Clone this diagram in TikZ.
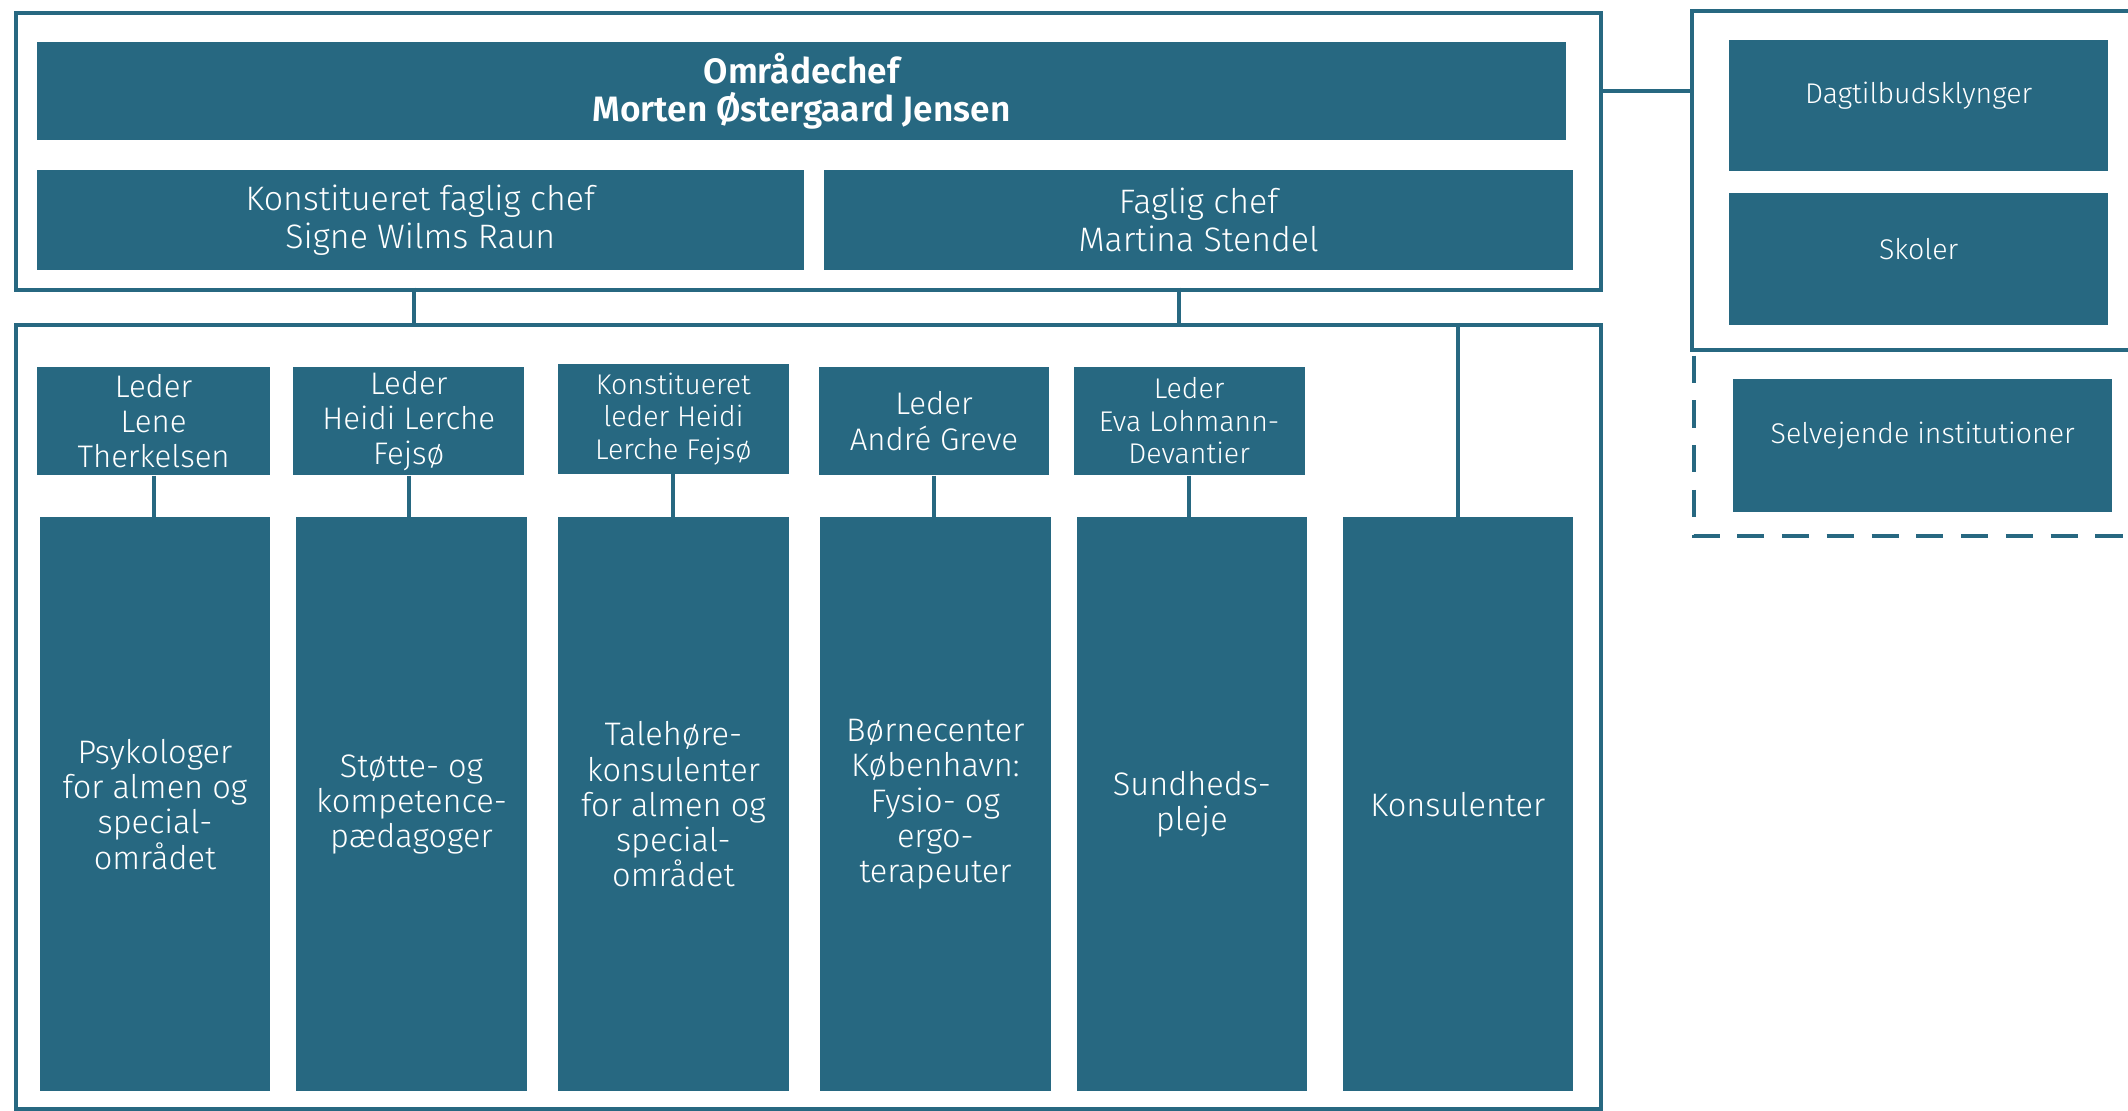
\documentclass[tikz,border=0pt]{standalone}
\usepackage{fontspec}
\setmainfont{Fira Sans Light}[BoldFont={Fira Sans SemiBold}]
\usetikzlibrary{positioning}
\definecolor{kbhblue}{RGB}{39,104,129}
\tikzset{
  unit/.style={fill=kbhblue, text=white, align=center, inner sep=0pt, anchor=north west},
  frame/.style={draw=kbhblue, line width=3pt, inner sep=0pt, anchor=north west},
  link/.style={draw=kbhblue, line width=3pt},
  topfont/.style={font=\fontsize{25}{28}\selectfont},
  boldfont/.style={font=\fontsize{26}{28}\selectfont\bfseries},
  leadfont/.style={font=\fontsize{23}{26}\selectfont},
  smallfont/.style={font=\fontsize{21}{24}\selectfont},
  teamfont/.style={font=\fontsize{24}{26}\selectfont},
  sidefont/.style={font=\fontsize{21}{24}\selectfont},
}
\begin{document}
\begin{tikzpicture}[x=1pt,y=-1pt]
  \useasboundingbox[fill=white] (0,0) rectangle (1568,818);
  % frames
  \node[frame, minimum width=1168pt, minimum height=204pt] (topframe) at (10,8) {};
  \node[frame, minimum width=1168pt, minimum height=578pt] (botframe) at (10,238) {};
  \coordinate (rf) at (1247,8);
  \draw[link] (1600,8) -- (rf) -- (1247,258) -- (1600,258);
  \draw[link, dash pattern=on 20pt off 13pt] (1248,262) -- (1248,395) -- (1600,395);
  % top
  \node[unit, boldfont, minimum width=1127pt, minimum height=72pt] (omr) at (27,31)
    {Områdechef\\Morten Østergaard Jensen};
  \node[unit, topfont, minimum width=565pt, minimum height=74pt] (kfc) at (27,125)
    {Konstitueret faglig chef\\Signe Wilms Raun};
  \node[unit, topfont, minimum width=552pt, minimum height=74pt] (fc) at (607,125)
    {Faglig chef\\Martina Stendel};
  % right side
  \node[unit, minimum width=279pt, minimum height=97pt] (dag) at (1274,29) {};
  \node[unit, minimum width=279pt, minimum height=97pt] (skoler) at (1274,142) {};
  \node[unit, minimum width=279pt, minimum height=98pt] (selv) at (1277,279) {};
  \node[sidefont, text=white] (dagtxt) at ([yshift=7pt]dag.center) {Dagtilbudsklynger};
  \node[sidefont, text=white] (skolertxt) at ([yshift=7pt]skoler.center) {Skoler};
  \node[sidefont, text=white] (selvtxt) at ([yshift=7pt]selv.center) {Selvejende institutioner};
  % leaders
  \node[unit, leadfont, minimum width=172pt, minimum height=80pt] (lead1) at (27,270)
    {Leder\\Lene\\Therkelsen};
  \node[unit, leadfont, minimum width=170pt, minimum height=80pt] (lead2) at (216,270)
    {Leder\\Heidi Lerche\\Fejsø};
  \node[unit, smallfont, minimum width=170pt, minimum height=81pt] (lead3) at (411,268)
    {Konstitueret\\leder Heidi\\Lerche Fejsø};
  \node[unit, leadfont, minimum width=170pt, minimum height=80pt] (lead4) at (603,270)
    {Leder\\André Greve};
  \node[unit, smallfont, minimum width=170pt, minimum height=80pt] (lead5) at (791,270)
    {Leder\\Eva Lohmann-\\Devantier};
  % teams
  \node[unit, teamfont, minimum width=170pt, minimum height=423pt] (team1) at (29,381)
    {Psykologer\\for almen og\\special-\\området};
  \node[unit, teamfont, minimum width=170pt, minimum height=423pt] (team2) at (218,381)
    {Støtte- og\\kompetence-\\pædagoger};
  \node[unit, teamfont, minimum width=170pt, minimum height=423pt] (team3) at (411,381)
    {Talehøre-\\konsulenter\\for almen og\\special-\\området};
  \node[unit, teamfont, minimum width=170pt, minimum height=423pt] (team4) at (604,381)
    {Børnecenter\\København:\\Fysio- og\\ergo-\\terapeuter};
  \node[unit, teamfont, minimum width=170pt, minimum height=423pt] (team5) at (793,381)
    {Sundheds-\\pleje};
  \node[unit, teamfont, minimum width=170pt, minimum height=423pt] (team6) at (989,381)
    {Konsulenter};
  % connectors
  \coordinate (j1) at (305,212);
  \coordinate (j2) at (869,212);
  \draw[link] (j1) -- (j1 |- botframe.north);
  \draw[link] (j2) -- (j2 |- botframe.north);
  \draw[link] (topframe.east |- omr.east) -- (rf |- omr.east);
  \foreach \i in {1,...,5}
    \draw[link] (lead\i.south) -- (lead\i.south |- team\i.north);
  \draw[link] (botframe.north -| team6.north) -- (team6.north);
\end{tikzpicture}
\end{document}
